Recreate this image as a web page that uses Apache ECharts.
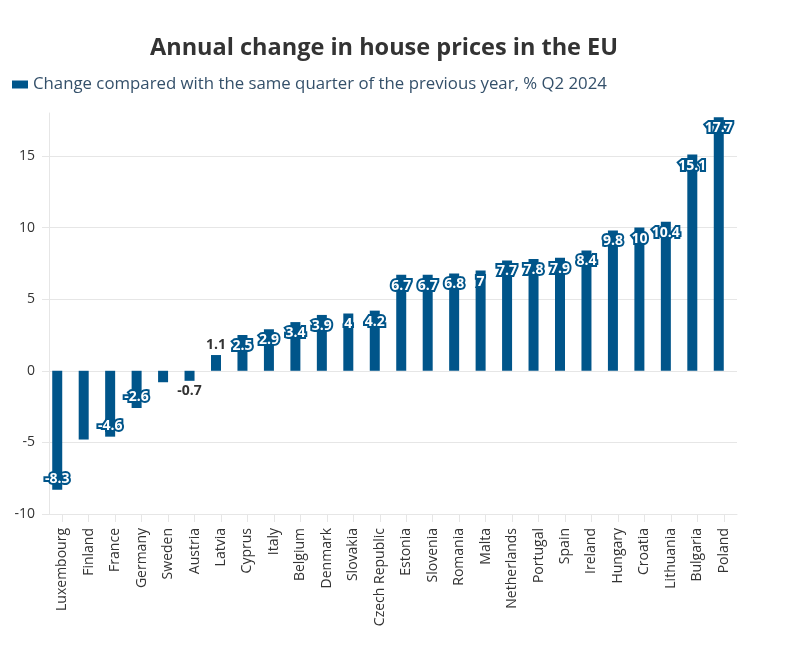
<!DOCTYPE html>
<html>
<head>
<meta charset="utf-8">
<script src="https://cdn.jsdelivr.net/npm/echarts@6/dist/echarts.min.js"></script>
<style>html,body{margin:0;padding:0;background:#fff;}#c{width:792px;height:652px;}</style>
</head>
<body>
<div id="c"></div>
<script>
const categories = ['Luxembourg','Finland','France','Germany','Sweden','Austria','Latvia','Cyprus','Italy','Belgium','Denmark','Slovakia','Czech Republic','Estonia','Slovenia','Romania','Malta','Netherlands','Portugal','Spain','Ireland','Hungary','Croatia','Lithuania','Bulgaria','Poland'];
const values = [-8.3,-4.8,-4.6,-2.6,-0.8,-0.7,1.1,2.5,2.9,3.4,3.9,4,4.2,6.7,6.7,6.8,7,7.7,7.8,7.9,8.4,9.8,10,10.4,15.1,17.7];
const hiddenLabels = ['Finland','Sweden'];
const yTicks = [-10,-5,0,5,10,15];
const seriesName = 'Change compared with the same quarter of the previous year, % Q2 2024';

const BAR = '#00558a';
const FONT = '"Open Sans", sans-serif';

const data = values.map((v, i) => {
  const small = Math.abs(v) < 2;
  const label = {
    show: hiddenLabels.indexOf(categories[i]) < 0,
    fontFamily: FONT,
    fontSize: 14,
    fontWeight: 'bold'
  };
  if (small) {
    Object.assign(label, {
      position: v >= 0 ? 'top' : 'bottom',
      distance: 3,
      color: '#333',
      textBorderColor: '#fff',
      textBorderWidth: 2
    });
  } else {
    Object.assign(label, {
      position: v >= 0 ? 'insideTop' : 'insideBottom',
      distance: 4,
      color: '#fff',
      textBorderColor: BAR,
      textBorderWidth: 4
    });
  }
  return { value: v, label };
});

const chart = echarts.init(document.getElementById('c'), null, { renderer: 'canvas' });
chart.setOption({
  animation: false,
  backgroundColor: '#fff',
  title: {
    text: 'Annual change in house prices in the EU',
    left: 379, textAlign: 'center', top: 31,
    textStyle: { fontFamily: FONT, fontSize: 23.5, fontWeight: 'bold', color: '#333' }
  },
  legend: {
    left: 7, top: 71,
    icon: 'rect', itemWidth: 16, itemHeight: 8, itemGap: 4,
    textStyle: { fontFamily: FONT, fontSize: 16.8, color: '#34506a' },
    data: [seriesName]
  },
  grid: { left: 49, right: 55, top: 113, bottom: 138, containLabel: false },
  xAxis: {
    type: 'category',
    data: categories,
    boundaryGap: true,
    axisLine: { onZero: false, lineStyle: { color: '#e6e6e6', width: 1 } },
    axisTick: { show: true, alignWithLabel: true, length: 8, lineStyle: { color: '#e6e6e6' } },
    axisLabel: { rotate: 90, interval: 0, margin: 14, fontFamily: FONT, fontSize: 14, color: '#333' }
  },
  yAxis: {
    type: 'value',
    min: -10, max: 18, interval: 5,
    axisLine: { show: true, lineStyle: { color: '#e6e6e6' } },
    axisTick: { show: true, length: 7, customValues: yTicks, lineStyle: { color: '#e6e6e6' } },
    axisLabel: { customValues: yTicks, margin: 14, fontFamily: FONT, fontSize: 14, color: '#333', padding: [6,0,0,0] },
    splitLine: { show: true, lineStyle: { color: ['#e6e6e6','#e6e6e6','#e6e6e6','#e6e6e6','#e6e6e6','#e6e6e6','rgba(0,0,0,0)'] } }
  },
  series: [{
    name: seriesName,
    type: 'bar',
    data: data,
    barWidth: 10,
    barGap: '0%',
    itemStyle: { color: BAR }
  }, {
    name: 'placeholder',
    type: 'bar',
    data: [],
    barWidth: 10,
    barGap: '0%',
    silent: true
  }]
});
</script>
</body>
</html>
